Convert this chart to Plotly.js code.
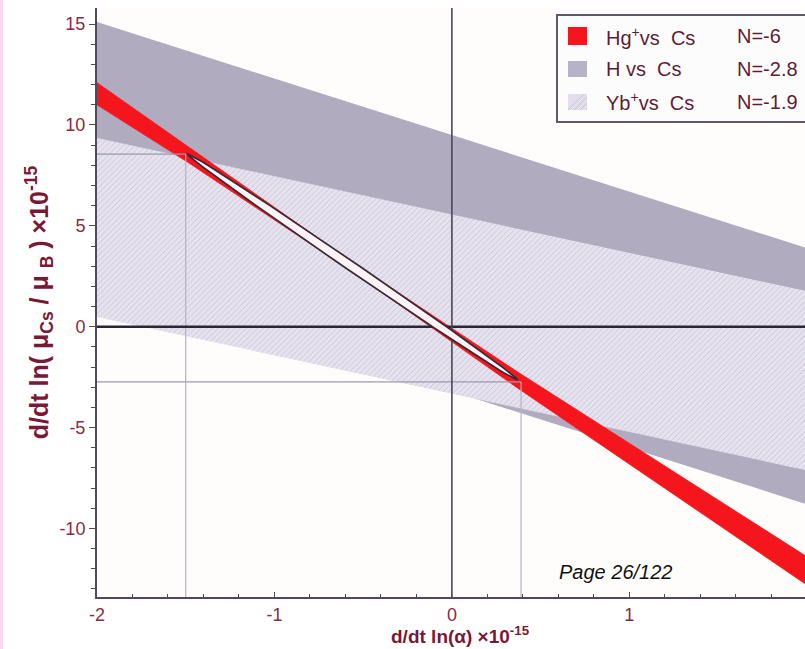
<!DOCTYPE html>
<html>
<head>
<meta charset="utf-8">
<script src="https://cdn.plot.ly/plotly-3.0.1.min.js"></script>
<style>
  html, body { margin: 0; padding: 0; background: #ffffff; }
  #chart { width: 805px; height: 649px; }
</style>
</head>
<body>
<div id="chart"></div>
<script>
// ---------- data ----------
const bandX = [-2, 2];                 // x at which each straight band edge is read
// H vs Cs (grey band)
const hUpper = [15.1, 3.9];
const hLower = [2.4, -8.8];
// Yb+ vs Cs (hatched band)
const ybUpper = [9.36, 1.76];
const ybLower = [0.48, -7.12];
// Hg+ vs Cs (red band, pinched where it meets the ellipse)
const hgX     = [-2,   -1.49, -0.56, 0.37,  2];
const hgUpper = [12.1,  8.96,  3.2,  -2.24, -11.4];
const hgLower = [11.0,  8.16,  2.72, -3.04, -12.8];

// combined constraint ellipse (tips) and its thickness
const ellTipX = [-1.49, 0.37];
const ellTipY = [8.56, -2.64];
const ellHalfThick = [0.28];

// guide lines from the ellipse tips to the axes
const guideX = [-1.5, 0.39];
const guideY = [8.56, -2.74];

// axis ranges and tick labels
const xRange = [-2, 1.99];
const yRange = [-13.4, 15.8];
const xTickVals = [-2, -1, 0, 1];
const xTickText = ['-2', '-1', '0', '1'];
const yTickVals = [-10, -5, 0, 5, 10, 15];
const yTickText = ['-10', '-5', '0', '5', '10', '15'];

// legend
const legNames = ['Hg<sup>+</sup>vs\u00a0\u00a0Cs', 'H vs\u00a0\u00a0Cs', 'Yb<sup>+</sup>vs\u00a0\u00a0Cs'];
const legN = ['N=-6', 'N=-2.8', 'N=-1.9'];

// ---------- helpers ----------
const L = 97, R = 805, T = 8, B = 597;
const px2x = p => (p - L) / (R - L);
const px2y = p => (B - p) / (B - T);

function band(xs, upper, lower) {
  const x = xs.concat(xs.slice().reverse(), [xs[0]]);
  const y = upper.concat(lower.slice().reverse(), [upper[0]]);
  return { x, y };
}

const hB = band(bandX, hUpper, hLower);
const ybB = band(bandX, ybUpper, ybLower);
const hgB = band(hgX, hgUpper, hgLower);

// ellipse outline built from tips + thickness
const ecx = (ellTipX[0] + ellTipX[1]) / 2, ecy = (ellTipY[0] + ellTipY[1]) / 2;
const eax = (ellTipX[1] - ellTipX[0]) / 2, eay = (ellTipY[1] - ellTipY[0]) / 2;
const ex = [], ey = [];
for (let i = 0; i <= 120; i++) {
  const t = 2 * Math.PI * i / 120;
  ex.push(ecx + eax * Math.cos(t));
  ey.push(ecy + eay * Math.cos(t) + ellHalfThick[0] * Math.sin(t));
}

const guideCol = '#9c98b0';
const traces = [
  { x: hB.x, y: hB.y, mode: 'lines', fill: 'toself', fillcolor: '#b1abbf',
    line: { width: 0, color: '#b1abbf' }, hoverinfo: 'skip', showlegend: false, name: 'H vs Cs' },
  { x: ybB.x, y: ybB.y, mode: 'lines', fill: 'toself', fillcolor: '#e6e3ef',
    fillpattern: { shape: '/', size: 4, solidity: 0.22, fgcolor: '#c4c0d6', bgcolor: '#e6e3ef' },
    line: { width: 0, color: '#e6e3ef' }, hoverinfo: 'skip', showlegend: false, name: 'Yb+ vs Cs' },
  { x: hgB.x, y: hgB.y, mode: 'lines', fill: 'toself', fillcolor: '#f4161c',
    line: { width: 0.8, color: '#f4161c' }, hoverinfo: 'skip', showlegend: false, name: 'Hg+ vs Cs' },
  // guides
  { x: [xRange[0], guideX[0]], y: [guideY[0], guideY[0]], mode: 'lines', line: { color: guideCol, width: 1.2 }, showlegend: false, hoverinfo: 'skip' },
  { x: [xRange[0], guideX[1]], y: [guideY[1], guideY[1]], mode: 'lines', line: { color: guideCol, width: 1.2 }, showlegend: false, hoverinfo: 'skip' },
  { x: [guideX[0], guideX[0]], y: [yRange[0], guideY[0]], mode: 'lines', line: { color: '#b4b0c8', width: 1.2 }, showlegend: false, hoverinfo: 'skip' },
  { x: [guideX[1], guideX[1]], y: [yRange[0], guideY[1]], mode: 'lines', line: { color: '#b4b0c8', width: 1.2 }, showlegend: false, hoverinfo: 'skip' },
  // zero lines
  { x: [xRange[0], xRange[1]], y: [0, 0], mode: 'lines', line: { color: '#2a2636', width: 2.5 }, showlegend: false, hoverinfo: 'skip' },
  { x: [0, 0], y: [yRange[0], yRange[1]], mode: 'lines', line: { color: '#4a4658', width: 1.6 }, showlegend: false, hoverinfo: 'skip' },
  // ellipse
  { x: ex, y: ey, mode: 'lines', fill: 'toself', fillcolor: '#fbf3f6',
    line: { color: '#3a2a38', width: 1.7 }, showlegend: false, hoverinfo: 'skip' }
];

const legTop = 15, legRow = [36, 69, 102];
const shapes = [
  // pink strip at left edge
  { type: 'rect', xref: 'paper', yref: 'paper', x0: px2x(0), x1: px2x(3), y0: px2y(649), y1: px2y(0),
    fillcolor: '#f6d8f2', line: { width: 0 }, layer: 'above' },
  // legend box
  { type: 'rect', xref: 'paper', yref: 'paper', x0: px2x(557), x1: px2x(830), y0: px2y(122), y1: px2y(legTop),
    fillcolor: '#fdfcfc', line: { color: '#5e5a6a', width: 2 }, layer: 'above' },
  { type: 'rect', xref: 'paper', yref: 'paper', x0: px2x(568), x1: px2x(587), y0: px2y(legRow[0] + 9), y1: px2y(legRow[0] - 9),
    fillcolor: '#f4161c', line: { width: 0 }, layer: 'above' },
  { type: 'rect', xref: 'paper', yref: 'paper', x0: px2x(568), x1: px2x(587), y0: px2y(legRow[1] + 8), y1: px2y(legRow[1] - 8),
    fillcolor: '#b7b3c6', line: { width: 0 }, layer: 'above' },
  { type: 'rect', xref: 'paper', yref: 'paper', x0: px2x(568), x1: px2x(587), y0: px2y(legRow[2] + 8), y1: px2y(legRow[2] - 8),
    fillcolor: '#e2dfea', line: { width: 0 }, layer: 'above' }
];
// hatch strokes in the third swatch
for (let k = 0; k < 4; k++) {
  const a = 568 + k * 6;
  const b = Math.min(a + 16, 587);
  shapes.push({ type: 'line', xref: 'paper', yref: 'paper',
    x0: px2x(a), y0: px2y(legRow[2] + 8), x1: px2x(b), y1: px2y(legRow[2] + 8 - (b - a)),
    line: { color: '#c6c2d4', width: 1 }, layer: 'above' });
}

const legFont = { family: 'Liberation Sans, Arial, sans-serif', size: 20, color: '#5e1c3a' };
const annotations = [];
for (let i = 0; i < 3; i++) {
  annotations.push({ xref: 'paper', yref: 'paper', x: px2x(604), y: px2y(legRow[i]), xanchor: 'left', yanchor: 'middle',
    text: legNames[i], showarrow: false, font: legFont });
  annotations.push({ xref: 'paper', yref: 'paper', x: px2x(735), y: px2y(legRow[i]), xanchor: 'left', yanchor: 'middle',
    text: legN[i], showarrow: false, font: legFont });
}
annotations.push({ xref: 'paper', yref: 'paper', x: px2x(557), y: px2y(572), xanchor: 'left', yanchor: 'middle',
  text: '<i>Page 26/122</i>', showarrow: false,
  font: { family: 'Liberation Sans, Arial, sans-serif', size: 20, color: '#111111' } });
// x-axis title, sitting low near the page edge as in the reference
annotations.push({ xref: 'paper', yref: 'paper', x: px2x(460), y: px2y(621), xanchor: 'center', yanchor: 'top',
  text: '<b>d/dt ln(α) ×10<sup>-15</sup></b>', showarrow: false,
  font: { family: 'Liberation Sans, Arial, sans-serif', size: 19, color: '#7a1838' } });

const tickFont = { family: 'Liberation Sans, Arial, sans-serif', size: 18, color: '#8a2a48' };
const yTitleFont = { family: 'Liberation Sans, Arial, sans-serif', size: 25, color: '#7a1838', weight: 'bold' };

const layout = {
  width: 805, height: 649,
  margin: { l: L, r: 805 - R, t: T, b: 649 - B, pad: 0 },
  paper_bgcolor: '#ffffff', plot_bgcolor: '#fefdfc',
  showlegend: false,
  xaxis: {
    range: xRange, showgrid: false, zeroline: false, showline: true,
    linecolor: '#4d4a5c', linewidth: 2, ticks: 'inside', ticklen: 5, tickcolor: '#4d4a5c',
    tickvals: xTickVals, ticktext: xTickText, tickfont: tickFont,
    minor: { dtick: 0.2, ticks: 'inside', ticklen: 3, tickcolor: '#4d4a5c', showgrid: false },
    automargin: false, fixedrange: true
  },
  yaxis: {
    range: yRange, showgrid: false, zeroline: false, showline: true,
    linecolor: '#4d4a5c', linewidth: 2, ticks: 'outside', ticklen: 6, tickcolor: '#4d4a5c',
    tickvals: yTickVals, ticktext: yTickText, tickfont: tickFont,
    minor: { dtick: 1, ticks: 'outside', ticklen: 4, tickcolor: '#4d4a5c', showgrid: false },
    title: { text: '<b>d/dt ln(\u00a0μ<sub>Cs</sub>\u00a0/\u00a0μ\u00a0<sub>B</sub>\u00a0)\u00a0×10<sup>-15</sup></b>', font: yTitleFont, standoff: 4 },
    automargin: false, fixedrange: true
  },
  shapes: shapes,
  annotations: annotations
};

Plotly.newPlot('chart', traces, layout, { displayModeBar: false });
</script>
</body>
</html>
